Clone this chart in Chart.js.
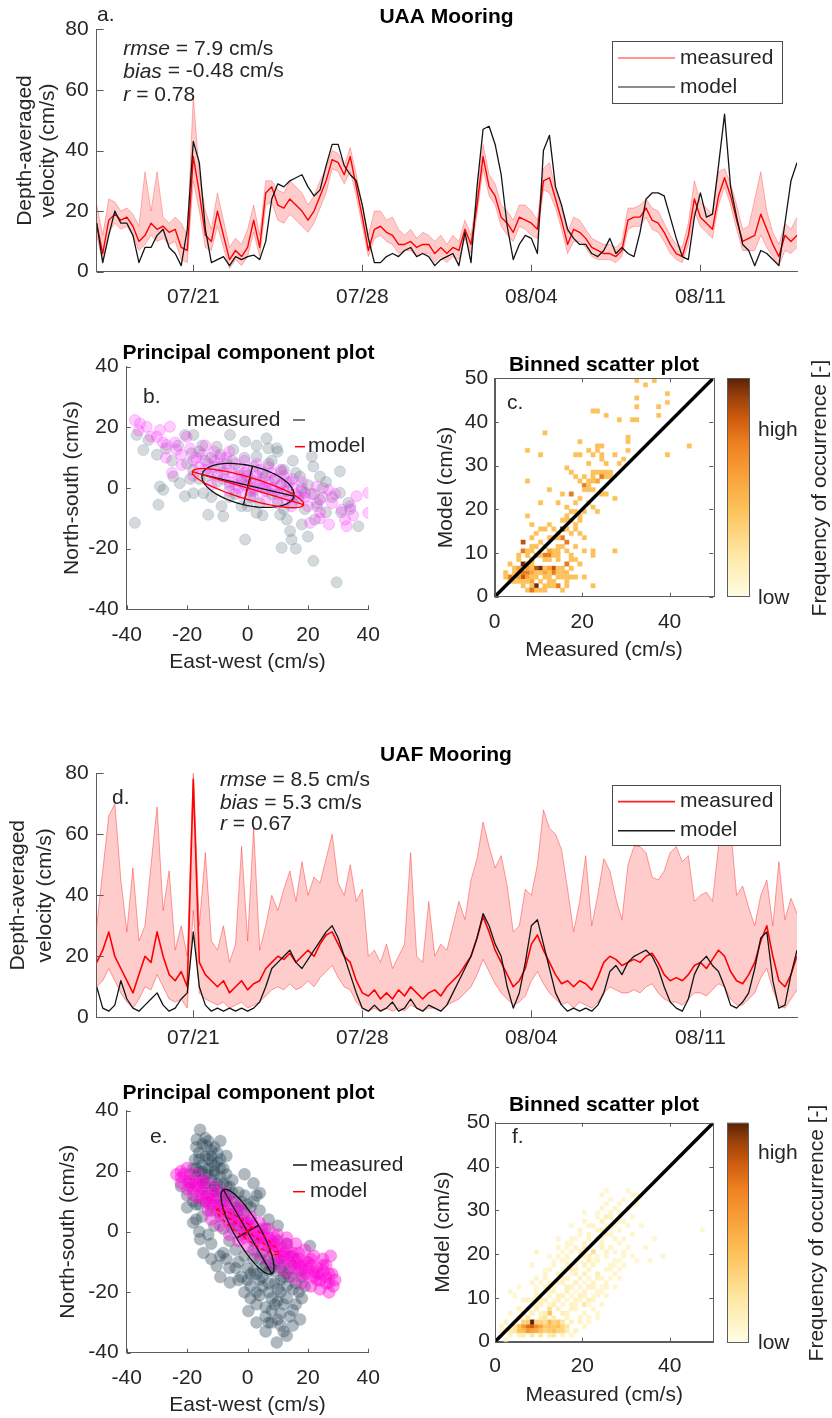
<!DOCTYPE html>
<html>
<head>
<meta charset="utf-8">
<title>UAA / UAF mooring comparison</title>
<script src="https://cdn.jsdelivr.net/npm/chart.js@4.4.1/dist/chart.umd.min.js"></script>
<style>
  html, body { margin: 0; padding: 0; background: #fff; }
  #page { position: relative; width: 832px; height: 1418px; overflow: hidden; background: #fff; }
  #page canvas { position: absolute; }
</style>
</head>
<body>
<div id="page">
  <canvas id="panelA" width="832" height="325" style="left:0px;top:0px"></canvas>
  <canvas id="panelB" width="420" height="350" style="left:0px;top:330px"></canvas>
  <canvas id="panelC" width="412" height="350" style="left:420px;top:330px"></canvas>
  <canvas id="panelD" width="832" height="330" style="left:0px;top:740px"></canvas>
  <canvas id="panelE" width="420" height="343" style="left:0px;top:1075px"></canvas>
  <canvas id="panelF" width="412" height="343" style="left:420px;top:1075px"></canvas>
</div>
<script>
// ---- data -------------------------------------------------------------
// time series: one sample every 6 h, day 0 = 07/17
const sampleStepDays = 0.25;
const dateTickDays = [4, 11, 18, 25];
const dateTickLabels = ['07/21', '07/28', '08/04', '08/11'];
const velocityTicks = [0, 20, 40, 60, 80];
const pcaTicks = [-40, -20, 0, 20, 40];
const binXTicks = [0, 20, 40];
const binYTicks = [0, 10, 20, 30, 40, 50];
const oneToOne = [0, 50];

const uaaMeasured = [16,6,17,19,17,18,15,10,12,16, 14,15,13,14,8,7,38,26,12,10, 20,12,4,7,5,8,17,8,26,28,
  22,21,24,22,20,17,20,25,30,37, 36,32,38,28,18,7,14,15,13,12, 9,9,10,8,9,9,6,8,6,8,
  7,14,9,22,38,28,25,18,16,13, 18,17,16,14,30,31,24,17,9,14, 13,11,8,7,6,6,5,7,17,18,
  18,21,17,16,13,9,6,5,12,24, 18,16,14,25,31,25,17,10,11,12, 19,14,9,5,12,10,12];
const uaaUpper = [22,12,24,23,20,21,19,15,33,20, 33,18,16,18,16,12,58,32,20,14, 26,17,8,11,9,14,22,12,30,30,
  27,26,30,28,26,22,25,30,34,40, 39,35,41,32,22,12,20,20,17,18, 14,12,14,11,13,12,10,12,9,12,
  10,17,12,25,42,32,29,22,20,17, 22,22,20,17,34,36,27,21,13,18, 17,14,11,10,9,9,8,10,21,21,
  22,24,21,20,16,12,9,8,16,30, 23,21,19,33,34,29,22,14,15,24, 33,20,13,9,16,14,18];
const uaaLower = [12,3,13,16,14,15,12,7,9,12, 10,11,9,10,4,3,30,20,8,7, 15,8,1,4,2,5,13,5,22,23,
  17,16,19,17,15,13,16,21,26,34, 33,29,33,25,15,5,11,12,10,9, 6,7,7,5,6,6,3,5,3,5,
  4,11,6,19,34,25,22,15,12,10, 15,14,12,11,27,26,21,14,6,10, 10,8,5,4,4,4,3,5,14,15,
  15,18,14,13,10,6,4,3,9,20, 15,13,11,22,28,22,14,7,7,7, 12,8,5,2,7,6,8];
const uaaModel = [16,3,12,20,16,16,12,3,8,8, 12,14,8,6,2,14,43,36,14,3, 4,5,2,5,4,5,5.5,4,10,24,
  29,28,30,31,32,28,25,27,35,42, 42,35,32,30,22,11,3,3,5,6, 5,7,8,5,6,5,2,4,5,6,
  2,13,3,28,47,48,42,32,15,4, 9,12,11,6,40,45,28,22,14,11, 9,9,6,5,7,11,6,8,6,5,
  13,24,26,26,25,18,11,5,4,18, 26,18,19,35,52,28,18,9,7,2, 7,6,4,2,16,30,36];

const uafMeasured = [18,22,28,20,16,12,8,14,20,18, 28,20,14,12,15,10,78,18,14,12, 10,12,8,10,12,9,11,12,16,18,
  20,19,21,18,20,22,20,24,27,28, 24,20,18,12,8,7,9,6,8,6, 9,7,10,8,6,8,9,7,10,12,
  14,17,20,26,33,28,22,18,14,10, 12,16,24,27,22,18,14,11,12,10, 12,11,9,13,18,20,19,17,18,19,
  18,20,21,18,14,12,13,12,14,17, 18,16,19,22,20,15,12,11,14,18, 25,30,20,12,10,14,20];
const uafUpper = [30,48,66,70,45,28,49,25,30,50, 69,35,48,22,30,20,80,30,54,25, 22,30,18,24,56,25,62,22,30,40,
  35,42,48,38,51,40,46,44,52,60, 44,40,50,38,42,20,22,18,24,16, 20,24,54,20,18,38,20,24,22,30,
  38,32,45,52,64,56,49,53,43,28, 30,42,40,50,68,62,60,55,42,28, 38,53,30,40,52,48,39,32,50,56,
  56,54,46,45,48,54,56,51,53,38, 40,41,38,56,65,62,40,43,36,30, 40,45,30,51,32,39,34];
const uafLower = [10,12,16,12,8,5,3,6,10,9, 14,10,6,5,6,3,35,8,6,5, 4,5,3,4,5,3,4,5,7,9,
  10,9,11,9,10,12,10,13,15,17, 13,10,9,5,3,2,3,2,3,2, 3,2,4,3,2,3,3,2,4,5,
  6,8,10,14,19,15,11,8,6,4, 5,7,12,15,11,8,6,4,5,3, 5,4,3,5,8,10,9,8,8,9,
  8,10,11,8,6,5,5,4,6,8, 8,7,9,11,10,6,4,4,6,8, 13,16,9,4,3,6,9];
const uafModel = [10,3,2,4,12,6,3,2,4,6, 8,4,2,3,6,8,28,10,4,2, 3,2,3,2,3,2,3,5,10,16,
  18,20,22,18,16,19,22,25,28,30, 26,20,14,8,3,2,4,2,3,5, 2,3,6,3,2,4,3,2,4,8,
  12,16,20,26,34,30,24,20,10,3, 8,18,30,32,24,16,8,4,2,3, 2,3,2,4,8,15,17,14,18,20,
  21,22,20,16,10,5,3,2,6,14, 18,20,17,15,10,4,3,5,8,16, 26,28,12,3,4,14,22];

// principal component clouds, [east-west, north-south] in cm/s
const pcaB_measured = [[-37.3,-11.5],[-36.7,17.5],[-34.5,12.5],[-32.8,15.8],[-29.5,-5.5],[-29,0.5],[-27.9,-0.6],
  [-24.6,3.8],[-22.4,1.6],[-20.7,-2.7],[-17.9,-1.7],[-20.7,17.5],[-17.9,17.5],[-18.5,11.5],[-14.6,-1.7],[-13,-8.8],
  [-8.6,-6],[-8,-9.3],[-5.8,17.5],[-10.2,13.6],[-4.7,12.6],[-0.8,15.3],[-0.8,-17],[3,10.4],[6.3,16.4],[6.9,13.1],
  [9.7,13.1],[11.3,5.5],[3,-8.2],[10.8,-8.8],[13,-10.4],[14.1,-14.2],[14.6,-17],[11.3,-19.7],[17.4,3.8],[19,-1.6],
  [21.3,10.4],[21.8,7.1],[22.3,-10.4],[24,3.8],[24,-3.8],[30.6,5.5],[30.6,-1.6],[33.4,-4.9],[36.7,-12.6],[21.8,-24],
  [29.5,-31.1],[-20,8],[-18,6],[-16,12],[-15,14],[-14,9],[-13,4],[-12,10],[-11,7],[-10,2],[-9,11],[-8,5],[-7,8],
  [-6,1],[-5,9],[-4,-2],[-3,6],[-2,3],[-1,10],[0,4],[1,-3],[2,7],[3,2],[4,-5],[5,5],[6,0],[7,8],[8,-2],[9,3],
  [10,-4],[11,1],[12,6],[13,-1],[14,2],[15,-5],[16,5],[17,-3],[18,0],[19,-7],[20,1],[22,-2],[23,-6],[25,0],[26,-8],
  [28,-3],[15,9],[-2,-6],[-16,3],[-25,9],[-27,13],[-30,11],[-23,14],[-19,3],[3,14],[8,9],[12,-7],[18,-12],[-6,-3],
  [0,-6],[5,-9],[-12,-3],[26,2],[31,-8],[34,-7],[20,-16],[16,-20],[10,12],[-1,1],[2,-1],[6,4]];
const pcaB_model = [[-37.3,22.4],[-35.6,21.3],[-33.4,20.2],[-30,16.9],[-29,19.1],[-25.7,20.2],[-26.8,14.2],[-23.5,12.6],
  [-21.8,7.6],[-20.1,16.9],[-36,19],[-32,17],[-28,15],[-27,10],[-24,15],[-22,11],[-19,13],[-18,9],[-17,10],[-16,7],
  [-15,11],[-14,6],[-13,8],[-12,5],[-11,9],[-10,4],[-9,7],[-8,3],[-7,6],[-6,2],[-5,5],[-4,1],[-3,4],[-2,2],[-1,5],
  [0,1],[1,3],[2,0],[3,4],[4,1],[5,3],[6,-1],[7,2],[8,0],[9,3],[10,-2],[11,1],[12,-1],[13,2],[14,-3],[15,0],[16,-2],
  [17,-4],[18,-1],[19,-3],[20,-6],[21,-2],[22.9,0.5],[23,-5],[24,-8],[25,-3],[26.8,-0.6],[28,-5],[29,-2],[31.2,-7.1],
  [32.3,-10.4],[32.8,-12.6],[34,-6],[36.1,-2.7],[40,-1.6],[40,-8.2],[20.7,-11.5],[14.6,-6],[13,-4],[-9,10],[-4,8],
  [0,6],[4,6],[8,5],[12,4],[-6,-1],[-2,-2],[2,-3],[6,-4],[10,-5],[-12,1],[-18,4],[-25,5],[-6,12],[-1,9],[3,8],[7,7],
  [11,6],[15,3],[18,2],[1,-1],[-3,0],[5,0],[9,-1],[-7,10],[-11,12],[-14,14],[24,-10],[27,-12],[35,-9]];
const pcaE_measured = [[-15.7,33.7],[-16.8,30.5],[-13.5,28.3],[-17.4,23.8],[-14,31],[-12,27],[-16,26],[-18,21],[-19,19],
  [-17,18],[-15,22],[-13,24],[-11,22],[-10,26],[-14,19],[-12,17],[-16,15],[-18,14],[-20,12],[-13,13],[-9,18],[-8,21],
  [-11,15],[-7,15],[-10,11],[-14,10],[-17,9],[-6,12],[-5,17],[-8,9],[-12,7],[-4,8],[-3,13],[-2,10],[-6,6],[-9,5],
  [-15,5],[-18,3],[-1,6],[0,3],[1,8],[3,12],[4,7],[-3,2],[-5,1],[-8,1],[-11,2],[-15.7,-2.5],[-14.6,-7],[-12,-4],
  [-10.2,-11.3],[-8,-7],[-6,-3],[-4,-6],[-2,-1],[0,0],[2,-3],[4,-2],[6,1],[5,-7],[2,-9],[0,-12],[-3,-10],[-5.8,-16.8],
  [-2,-15],[1,-18],[3,-14],[5,-12],[7,-9],[8,-5],[10,-3],[12,-8],[9,-13],[7,-17],[4,-21],[0.3,-26.2],[3,-30],[6,-25],
  [8,-22],[10,-19],[12,-15],[14,-12],[16,-17],[13,-22],[11,-27],[9.7,-36.6],[13,-34.4],[17.4,-29],[15,-26],[8,-30],
  [6,-33],[11,-31],[18,-22],[20.7,-4.7],[4.1,12.8],[7,4],[10,2],[13,-4],[15,-8],[-7,25],[-9,30],[-20,8],[-22,15],
  [-6,-12],[-9,-15],[17,-13],[19,-18],[2,16],[-1,19],[-15,17],[-13,21],[-11,19],[-16,20],[-12,23],[-10,16],[-14,15],
  [5,-15],[7,-20],[9,-24],[11,-20],[3,-24],[13,-18],[9,-9],[11,-12],[-1,-8],[1,-14],
  [-17,28],[-15,29],[-13,30],[-11,28],[-16,24],[-14,25],[-12,25],[-10,23],[-9,24],[-17,21],[-15,20],[-13,19],
  [-11,20],[-9,21],[-7,19],[-16,17],[-14,16],[-12,14],[-10,14],[-8,16],[-6,15],[-15,12],[-13,11],[-11,12],[-9,13],
  [-7,12],[-5,13],[-4,10],[-19,16],[-18,10],[-16,9],[-12,9],[-10,9],[-7,10],[-5,4],[-2,4],[-3,7],[-1,12],[0,9],[2,10],
  [2,-6],[4,-9],[6,-11],[8,-12],[10,-10],[12,-11],[14,-15],[15,-19],[17,-20],[16,-24],[14,-28],[12,-24],[10,-23],
  [8,-26],[6,-28],[5,-18],[3,-20],[1,-22],[-1,-20],[-3,-16],[0,-16],[2,-13],[11,-16],[13,-14],[9,-17],[7,-13],
  [4,-16],[16,-10],[18,-15],[15,-31],[12,-33],[10,-29],[7,-30],[-4,-12],[-7,-9],[-9,-8],[-12,-9],[-13,-1],[-16,0],[-17,4]];
const pcaE_model = [[-23.5,18.9],[-22,16],[-21,19],[-20,14],[-19,17],[-18,12],[-17,15],[-16,11],[-15,14],[-14,10],
  [-13,12],[-12,8],[-11,11],[-10,7],[-9,9],[-8,5],[-7,8],[-6,3],[-5,6],[-4,2],[-3,4],[-2,0],[-1,3],[0,-1],[1,1],
  [2,-2],[3,0],[4,-4],[5,-1],[6,-5],[7,-2],[8,-6],[9,-4],[10,-8],[11,-5],[12,-9],[13,-6],[14,-10],[15,-7],[16,-12],
  [17,-9],[18,-13],[19,-10],[20,-14],[21,-11],[22,-15],[23,-12],[24,-16],[25,-13],[26,-17],[27,-14],[28.4,-18],
  [27.5,-8],[25,-9],[22,-8],[19,-6],[16,-4],[13,-2],[10,-1],[7,1],[4,3],[1,5],[-2,7],[-5,10],[-8,13],[-11,15],
  [-14,17],[-17,19],[-20,21],[-22,20],[-12,4],[-9,2],[-6,-1],[-3,-3],[0,-5],[3,-7],[6,-9],[9,-11],[12,-13],[15,-15],
  [18,-17],[21,-18],[24,-19],[27,-20],[29,-16],[26,-11],[-16,16],[-13,7],[-1,-2],[2,2],[5,-3],[8,-3],[11,-7],
  [14,-8],[17,-11],[20,-10],[23,-14],
  [-22,18],[-20,17],[-18,16],[-16,13],[-14,12],[-12,11],[-10,9],[-8,8],[-6,6],[-4,5],[-2,3],[0,2],[2,0],[4,-1],
  [6,-2],[8,-4],[10,-5],[12,-7],[14,-8],[16,-9],[18,-11],[20,-12],[22,-13],[24,-14],[26,-15],[28,-14],[-19,15],
  [-15,16],[-11,13],[-7,11],[-3,8],[1,4],[5,1],[9,-2],[13,-4],[17,-7],[21,-9],[25,-11],[-13,10],[-9,6],[-5,3],
  [-1,0],[3,-3],[7,-5],[11,-9],[15,-11],[19,-14],[23,-16],[27,-17]];

// variance ellipses: [centre x, centre y, semi-major, semi-minor, angle deg]
const ellipseB_measured = [0.15, 0.85, 15.6, 6.5, -13.2];
const ellipseB_model = [0.15, -0.05, 19.2, 3.6, -16.5];
const ellipseE_measured = [0, 0, 16.0, 4.2, -60];
const ellipseE_model = [0, 0, 12.6, 2.2, -36];

// binned scatter, 1 cm/s bins: [measured bin, model bin, count level 1..5]
const binsC = [[32,49,1],[34,48,1],[36,49,1],[32,45,1],[39,46,1],[39,44,1],[37,43,1],[32,43,1],[22,42,1],[23,42,1],
  [25,41,1],[37,41,1],[28,40,1],[31,40,1],[32,40,1],[11,37,1],[30,36,1],[30,35,1],[19,35,1],[44,34,1],[7,33,1],
  [23,34,1],[24,34,1],[21,33,1],[23,33,1],[24,32,1],[18,32,1],[19,32,1],[22,32,1],[10,32,1],[27,32,1],[30,33,1],
  [39,32,1],[29,31,1],[24,31,1],[21,30,1],[25,30,1],[28,30,1],[16,29,1],[17,28,1],[22,28,1],[23,28,1],[24,28,1],
  [25,28,1],[26,28,1],[20,27,1],[18,27,1],[22,26,1],[23,26,2],[24,27,3],[7,26,1],[20,25,3],[21,25,1],[22,24,1],
  [25,23,1],[24,23,1],[17,23,3],[12,24,1],[15,23,1],[27,22,1],[14,21,1],[10,21,1],[21,21,1],[22,20,1],[23,19,1],
  [16,20,1],[18,19,1],[19,18,1],[7,18,1],[16,18,1],[15,17,1],[8,16,1],[10,15,1],[11,15,1],[15,15,5],[18,16,1],
  [17,14,1],[19,14,1],[20,13,1],[15,13,3],[16,12,3],[14,13,1],[13,13,1],[12,13,1],[9,14,1],[8,13,1],[6,12,4],
  [10,12,1],[18,11,1],[20,10,1],[22,10,1],[22,9,1],[27,10,1],[6,10,3],[8,10,1],[9,9,2],[11,9,3],[12,9,3],[6,7,5],
  [7,7,2],[8,7,1],[9,6,4],[10,6,5],[13,6,4],[16,7,3],[3,7,1],[2,5,1],[3,4,3],[4,4,1],[6,4,4],[7,5,3],[10,5,1],
  [13,5,3],[14,2,3],[9,2,5],[7,1,1],[9,1,1],[15,1,1],[22,2,1],[18,4,1],[20,4,1],[17,4,1],[5,9,1],[7,9,1],[10,9,1],
  [13,9,1],[14,9,1],[5,8,1],[8,8,2],[11,8,1],[12,8,1],[14,8,1],[4,6,1],[5,6,2],[7,6,2],[8,6,1],[11,6,1],[12,6,2],
  [14,6,1],[15,6,1],[17,6,1],[5,5,2],[6,5,3],[8,5,2],[9,5,1],[11,5,2],[12,5,1],[14,5,1],[15,5,1],[16,5,1],[5,4,2],
  [7,4,2],[8,4,1],[11,4,1],[12,4,1],[14,4,1],[15,4,1],[16,4,1],[4,3,1],[6,3,1],[8,3,2],[10,3,1],[12,3,1],[13,3,1],
  [16,3,1],[6,2,1],[8,2,1],[11,2,1],[12,2,1],[13,2,1],[16,2,1],[10,1,1],[11,1,1],[8,1,3],[13,10,1],[14,10,1],
  [15,11,1],[14,11,1],[11,11,1],[12,10,2],[9,11,1],[16,10,1],[17,9,1],[18,8,1],[19,7,1],[17,8,1],[16,15,1],[18,15,1],
  [13,15,1],[14,14,1],[20,19,1],[17,19,1],[18,21,1],[19,22,1],[20,24,1],[21,24,1],[21,26,1],[19,26,1],[22,27,1],
  [26,27,1],[25,27,1],[17,17,1],[19,17,1],[16,17,1],[12,16,1],[8,11,1],[7,10,1],[4,5,1],[3,3,1],[2,4,1],[5,3,1],
  [7,3,1],[9,4,1]];
// binned scatter UAF: [measured bin, model bin, relative frequency 0..1]
const binsF = [[7,3,0.75],[8,3,0.8],[8,4,1.0],[6,3,0.6],[9,3,0.65],[10,3,0.55],[7,2,0.6],[8,2,0.55],[9,2,0.5],
  [6,2,0.45],[5,2,0.4],[5,3,0.4],[10,2,0.4],[11,3,0.35],[12,3,0.4],[12,4,0.45],[13,3,0.35],[14,3,0.4],[13,2,0.4],
  [14,4,0.35],[15,3,0.3],[12,6,0.4],[11,2,0.3],[12,2,0.35],[15,2,0.3],[10,4,0.3],[9,4,0.3],[7,4,0.35],[6,4,0.3],
  [11,4,0.25],[13,4,0.3],[14,2,0.3],[4,2,0.2],[3,2,0.15],[4,3,0.2],[15,4,0.2],[16,3,0.2],[16,2,0.15],[13,1,0.2],
  [10,1,0.2],[8,1,0.2],
  [5,5,.15],[7,5,.2],[10,5,.15],[11,5,.2],[13,5,.15],[16,5,.1],[19,5,.1],[21,5,.08],
  [6,6,.15],[8,6,.12],[11,6,.15],[15,6,.12],[16,6,.1],[20,6,.08],[23,6,.06],
  [7,7,.12],[9,7,.15],[12,7,.25],[14,7,.12],[17,7,.1],[18,7,.08],[22,7,.06],
  [9,8,.1],[10,8,.12],[13,8,.15],[17,8,.1],[18,8,.08],[20,8,.2],[24,8,.08],
  [6,9,.08],[10,9,.1],[11,9,.12],[14,9,.12],[18,9,.1],[21,9,.12],[22,9,.08],
  [4,10,.06],[9,10,.1],[14,10,.12],[15,10,.1],[19,10,.12],[20,10,.1],[25,10,.08],
  [3,11,.06],[12,11,.1],[13,11,.1],[16,11,.12],[20,11,.1],[23,11,.08],[24,11,.06],
  [5,12,.06],[11,12,.1],[16,12,.12],[17,12,.1],[21,12,.12],[22,12,.1],[27,12,.06],
  [8,13,.08],[12,13,.1],[15,13,.1],[18,13,.12],[22,13,.1],[25,13,.08],
  [9,14,.08],[15,14,.1],[16,14,.12],[19,14,.1],[23,14,.12],[24,14,.08],[28,14,.06],
  [11,15,.08],[14,15,.12],[18,15,.1],[20,15,.12],[23,15,.15],[27,15,.08],
  [12,16,.08],[17,16,.15],[18,16,.1],[21,16,.1],[25,16,.08],[28,16,.06],
  [13,17,.08],[16,17,.1],[20,17,.12],[22,17,.1],[26,17,.08],[29,17,.06],
  [15,18,.08],[18,18,.1],[21,18,.15],[23,18,.1],[27,18,.06],[35,18,.06],
  [16,19,.08],[20,19,.1],[21,19,.12],[25,19,.08],[29,19,.06],
  [9,20,.1],[17,20,.08],[19,20,.12],[22,20,.25],[25,20,.1],[27,20,.06],
  [14,21,.08],[18,21,.1],[20,21,.12],[24,21,.1],[26,21,.08],[30,21,.06],
  [16,22,.06],[20,22,.1],[22,22,.12],[24,22,.1],[28,22,.06],
  [17,23,.06],[21,23,.08],[23,23,.12],[27,23,.08],[29,23,.06],
  [19,24,.06],[21,24,.1],[25,24,.1],[26,24,.08],[31,24,.06],
  [19,25,.08],[23,25,.1],[24,25,.12],[28,25,.08],[47,25,.06],
  [21,26,.06],[22,26,.1],[26,26,.08],[30,26,.06],
  [20,27,.08],[24,27,.12],[27,27,.1],[29,27,.06],
  [23,28,.06],[25,28,.12],[26,28,.1],[31,28,.06],
  [23,29,.06],[26,29,.08],[28,29,.06],[24,30,.08],[27,30,.08],[30,30,.06],
  [25,31,.06],[28,31,.06],[32,31,.06],[26,32,.06],[29,32,.06],[24,33,.06],[31,33,.08],[32,33,.06],[25,34,.06],[30,34,.06],
  [3,1,.1],[5,1,.12],[6,1,.15],[12,1,.15],[15,1,.1],[17,1,.08],[2,0,.06],[18,2,.1],[20,3,.08],[19,4,.1],[17,4,.12],
  [21,4,.06],[23,5,.06],[20,29,.06],[17,26,.06],[14,23,.06],[12,19,.06],[8,17,.06],[11,14,.08],[9,11,.08],[7,9,.1],
  [5,7,.1],[3,6,.08],[2,4,.1],[1,3,.08],[1,2,.06],[38,19,.06],[36,23,.06],[33,26,.06],[34,21,.06],[31,19,.06],
  [29,20,.06],[32,18,.06],
  [12,10,.06],[13,12,.05],[14,13,.06],[15,16,.05],[16,18,.06],[17,15,.05],[18,17,.06],[19,18,.05],[19,12,.06],
  [20,13,.05],[21,14,.06],[22,18,.05],[23,19,.06],[24,23,.05],[25,26,.06],[26,25,.05],[27,26,.06],[28,27,.05],
  [10,6,.08],[12,8,.08],[13,9,.06],[15,8,.06],[16,9,.05],[17,10,.06],[18,11,.05],[19,9,.06],[21,8,.05],[22,10,.05],
  [23,10,.06],[24,12,.05],[25,12,.06],[26,14,.05],[26,16,.06],[27,17,.05],[28,18,.05],[8,9,.06],[9,12,.05],
  [10,13,.06],[11,16,.05],[13,18,.05],[14,19,.06],[15,20,.05],[16,21,.06],[17,22,.05],[18,23,.05]];

// ---- styling ----------------------------------------------------------
const FONT = '"Liberation Sans", Arial, Helvetica, sans-serif';
const INK = '#262626';
const AXIS = '#5c5c5c';
const heatStops = [[0, '#fffde4'], [0.2, '#fee7a2'], [0.4, '#fdc15a'], [0.55, '#f9a23a'], [0.7, '#ee8120'],
  [0.82, '#cc5a0e'], [0.92, '#96400a'], [1, '#5a2206']];
const levelShade = [0, 0.4, 0.55, 0.72, 0.84, 0.97];

Chart.defaults.font.family = FONT;
Chart.defaults.color = INK;

const sampleDays = uaaMeasured.map((_, i) => i * sampleStepDays);

function pts(xs, ys) { return ys.map((y, i) => ({x: xs[i], y: y})); }
function pairs(list) { return list.map(p => ({x: p[0], y: p[1]})); }

function hexRgb(h) { return [1, 3, 5].map(i => parseInt(h.substr(i, 2), 16)); }
function heat(v) {
  for (let i = 1; i < heatStops.length; i++) {
    if (v <= heatStops[i][0] || i === heatStops.length - 1) {
      const [p0, c0] = heatStops[i - 1], [p1, c1] = heatStops[i];
      const k = Math.max(0, Math.min(1, (v - p0) / (p1 - p0)));
      const a = hexRgb(c0), b = hexRgb(c1);
      return 'rgb(' + a.map((q, j) => Math.round(q + (b[j] - q) * k)).join(',') + ')';
    }
  }
}

function ellipsePath(e) {
  const t = e[4] * Math.PI / 180, out = [];
  for (let k = 0; k <= 96; k++) {
    const s = k / 96 * 2 * Math.PI, u = e[2] * Math.cos(s), v = e[3] * Math.sin(s);
    out.push({x: e[0] + u * Math.cos(t) - v * Math.sin(t), y: e[1] + u * Math.sin(t) + v * Math.cos(t)});
  }
  return out;
}
function ellipseAxes(e) {
  const t = e[4] * Math.PI / 180, c = Math.cos(t), s = Math.sin(t);
  return [
    [{x: e[0] - e[2] * c, y: e[1] - e[2] * s}, {x: e[0] + e[2] * c, y: e[1] + e[2] * s}],
    [{x: e[0] + e[3] * s, y: e[1] - e[3] * c}, {x: e[0] - e[3] * s, y: e[1] + e[3] * c}]
  ];
}

// canvas box [left, top, w, h] and plot area [l, t, r, b], page pixels
function frame(box, area) {
  return {
    origin: [box[0], box[1]],
    padding: {left: 0, top: area[1] - box[1], right: box[0] + box[2] - area[2], bottom: 0},
    yWidth: area[0] - box[0],
    xHeight: box[1] + box[3] - area[3]
  };
}

function fixedTicks(values) {
  return scale => { scale.ticks = values.map(v => ({value: v})); };
}

function xAxis(fr, range, tickValues, o) {
  return {
    type: 'linear', position: 'bottom', min: range[0], max: range[1], bounds: 'data',
    afterBuildTicks: fixedTicks(tickValues),
    afterFit: s => { s.height = fr.xHeight; },
    grid: {display: false, drawTicks: false},
    border: {display: true, color: AXIS, width: 1},
    ticks: {
      color: INK, font: {family: FONT, size: 21}, padding: o.tickPad, maxRotation: 0, autoSkip: false,
      callback: v => o.labels ? o.labels[tickValues.indexOf(v)] : String(v)
    },
    title: {display: !!o.title, text: o.title || '', color: INK,
      font: {family: FONT, size: 21, lineHeight: 1.2}, padding: {top: 0, bottom: o.titlePad || 0}}
  };
}

function yAxis(fr, range, tickValues, o) {
  return {
    type: 'linear', position: 'left', min: range[0], max: range[1], bounds: 'data',
    afterBuildTicks: fixedTicks(tickValues),
    afterFit: s => { s.width = fr.yWidth; },
    grid: {display: false, drawTicks: false},
    border: {display: true, color: AXIS, width: 1},
    ticks: {color: INK, font: {family: FONT, size: 21}, padding: o.tickPad, autoSkip: false, callback: v => String(v)},
    title: {display: !!o.title, text: o.title || '', color: INK,
      font: {family: FONT, size: 21, lineHeight: 1.2}, padding: {top: o.titlePad || 0, bottom: 0}}
  };
}

function drawText(ctx, t, off) {
  ctx.save();
  ctx.translate(t.x - off[0], t.y - off[1]);
  if (t.rot) ctx.rotate(t.rot * Math.PI / 180);
  ctx.fillStyle = t.color || INK;
  ctx.textBaseline = 'middle';
  ctx.textAlign = 'left';
  const runs = t.runs || [{t: t.text}];
  const fontOf = r => (r.i ? 'italic ' : '') + (t.bold ? 'bold ' : '') + (t.size || 21) + 'px ' + FONT;
  let w = 0;
  runs.forEach(r => { ctx.font = fontOf(r); w += ctx.measureText(r.t).width; });
  let x = t.align === 'center' ? -w / 2 : (t.align === 'right' ? -w : 0);
  runs.forEach(r => { ctx.font = fontOf(r); ctx.fillText(r.t, x, 0); x += ctx.measureText(r.t).width; });
  ctx.restore();
}

// inward MATLAB-style ticks, optional box, colour bar, legend boxes and text
const decor = {
  id: 'decor',
  afterDraw(chart, args, o) {
    const ctx = chart.ctx, a = chart.chartArea, off = o.origin || [0, 0];
    const sx = chart.scales.x, sy = chart.scales.y, L = o.tickLen || 0;
    ctx.save();
    ctx.strokeStyle = AXIS;
    ctx.lineWidth = 1;
    ctx.beginPath();
    sx.ticks.forEach(t => {
      const p = Math.round(sx.getPixelForValue(t.value)) + 0.5;
      ctx.moveTo(p, a.bottom); ctx.lineTo(p, a.bottom - L);
      if (o.box) { ctx.moveTo(p, a.top); ctx.lineTo(p, a.top + L); }
    });
    sy.ticks.forEach(t => {
      const p = Math.round(sy.getPixelForValue(t.value)) + 0.5;
      ctx.moveTo(a.left, p); ctx.lineTo(a.left + L, p);
      if (o.box) { ctx.moveTo(a.right, p); ctx.lineTo(a.right - L, p); }
    });
    ctx.stroke();
    if (o.box) {
      ctx.strokeRect(Math.round(a.left) + 0.5, Math.round(a.top) + 0.5,
        Math.round(a.right - a.left), Math.round(a.bottom - a.top));
    }
    if (o.colorbar) {
      const [x1, y1, x2, y2] = o.colorbar.map((v, i) => v - off[i % 2]);
      const g = ctx.createLinearGradient(0, y2, 0, y1);
      heatStops.forEach(s => g.addColorStop(s[0], s[1]));
      ctx.fillStyle = g;
      ctx.fillRect(x1, y1, x2 - x1, y2 - y1);
      ctx.strokeRect(Math.round(x1) + 0.5, Math.round(y1) + 0.5, Math.round(x2 - x1), Math.round(y2 - y1));
    }
    (o.boxes || []).forEach(b => {
      ctx.fillStyle = '#fff';
      ctx.fillRect(b[0] - off[0], b[1] - off[1], b[2] - b[0], b[3] - b[1]);
      ctx.strokeStyle = '#4a4a4a';
      ctx.strokeRect(Math.round(b[0] - off[0]) + 0.5, Math.round(b[1] - off[1]) + 0.5,
        Math.round(b[2] - b[0]), Math.round(b[3] - b[1]));
    });
    (o.lines || []).forEach(l => {
      ctx.strokeStyle = l.color;
      ctx.lineWidth = l.w;
      ctx.beginPath();
      ctx.moveTo(l.p[0] - off[0], l.p[1] - off[1]);
      ctx.lineTo(l.p[2] - off[0], l.p[3] - off[1]);
      ctx.stroke();
    });
    (o.texts || []).forEach(t => drawText(ctx, t, off));
    ctx.restore();
  }
};
Chart.register(decor);

function baseOptions(fr, scales, deco) {
  deco.origin = fr.origin;
  return {
    responsive: false, animation: false, devicePixelRatio: 1, events: [],
    layout: {padding: fr.padding},
    plugins: {legend: {display: false}, tooltip: {enabled: false}, decor: deco},
    scales: scales
  };
}

function trace(xs, ys, color, width) {
  return {data: pts(xs, ys), borderColor: color, borderWidth: width, pointRadius: 0,
    tension: 0, fill: false, borderJoinStyle: 'round'};
}

// ---- a / d: depth-averaged velocity ------------------------------------
function seriesPanel(id, box, area, s, o) {
  const fr = frame(box, area);
  const upper = trace(sampleDays, s.upper, o.edge, 1);
  upper.fill = '+1';
  upper.backgroundColor = o.band;
  const mid = (area[1] + area[3]) / 2;
  o.deco.texts.push(
    {text: 'Depth-averaged', x: o.titleX[0], y: mid, rot: -90, align: 'center'},
    {text: 'velocity (cm/s)', x: o.titleX[1], y: mid, rot: -90, align: 'center'});
  new Chart(document.getElementById(id), {
    type: 'line',
    data: {datasets: [
      trace(sampleDays, s.model, '#141414', 1.3),
      trace(sampleDays, s.measured, '#ff0000', o.redWidth),
      upper,
      trace(sampleDays, s.lower, o.edge, 1)
    ]},
    options: baseOptions(fr, {
      x: xAxis(fr, [0, 29], dateTickDays, {labels: dateTickLabels, tickPad: o.xTickPad}),
      y: yAxis(fr, [0, 80], velocityTicks, {tickPad: 8})
    }, o.deco)
  });
}

seriesPanel('panelA', [0, 0, 832, 325], [96.7, 29.3, 797, 271.7],
  {measured: uaaMeasured, upper: uaaUpper, lower: uaaLower, model: uaaModel},
  {edge: 'rgba(255,0,0,0.28)', band: 'rgba(255,0,0,0.2)', redWidth: 1.4, xTickPad: 12.7, titleX: [25, 48.3],
   deco: {tickLen: 7,
     boxes: [[611.7, 40.7, 781.7, 102.7]],
     lines: [{p: [618, 58, 675, 58], color: 'rgba(255,40,40,0.65)', w: 1.6},
             {p: [618, 87, 675, 87], color: '#1a1a1a', w: 1.2}],
     texts: [
       {text: 'UAA Mooring', x: 446.5, y: 17, bold: true, align: 'center', color: '#000'},
       {text: 'a.', x: 97, y: 15},
       {runs: [{t: 'rmse', i: true}, {t: ' = 7.9 cm/s'}], x: 123.3, y: 49.3},
       {runs: [{t: 'bias', i: true}, {t: ' = -0.48 cm/s'}], x: 123.3, y: 71.7},
       {runs: [{t: 'r', i: true}, {t: ' = 0.78'}], x: 123.3, y: 95},
       {text: 'measured', x: 680, y: 58},
       {text: 'model', x: 680, y: 87}
     ]}});

seriesPanel('panelD', [0, 740, 832, 330], [96.7, 773.3, 797, 1017.3],
  {measured: uafMeasured, upper: uafUpper, lower: uafLower, model: uafModel},
  {edge: 'rgba(255,40,40,0.45)', band: 'rgba(255,0,0,0.2)', redWidth: 1.6, xTickPad: 8.5, titleX: [18, 45],
   deco: {tickLen: 7,
     boxes: [[611.7, 785, 780, 845]],
     lines: [{p: [618, 801.7, 675, 801.7], color: '#ff2020', w: 1.8},
             {p: [618, 830.7, 675, 830.7], color: '#1a1a1a', w: 1.4}],
     texts: [
       {text: 'UAF Mooring', x: 446, y: 755, bold: true, align: 'center', color: '#000'},
       {text: 'd.', x: 112, y: 798},
       {runs: [{t: 'rmse', i: true}, {t: ' = 8.5 cm/s'}], x: 220, y: 780},
       {runs: [{t: 'bias', i: true}, {t: ' = 5.3 cm/s'}], x: 220, y: 803.3},
       {runs: [{t: 'r', i: true}, {t: ' = 0.67'}], x: 220, y: 824.3},
       {text: 'measured', x: 680, y: 801.7},
       {text: 'model', x: 680, y: 830.7}
     ]}});

// ---- b / e: principal component plots -----------------------------------
function pcaPanel(id, box, area, meas, model, eMeas, eModel, o) {
  const fr = frame(box, area);
  const curve = (data, color, dash) => ({data, showLine: true, pointRadius: 0, borderColor: color,
    borderWidth: 1.3, borderDash: dash || [], fill: false, tension: 0});
  const axM = ellipseAxes(eMeas), axR = ellipseAxes(eModel);
  new Chart(document.getElementById(id), {
    type: 'scatter',
    data: {datasets: [
      curve(ellipsePath(eModel), '#ff0000', o.redDash),
      curve(axR[0], '#ff0000', o.redDash),
      curve(axR[1], '#ff0000'),
      curve(ellipsePath(eMeas), '#111'),
      curve(axM[0], '#111'),
      curve(axM[1], '#111'),
      {data: pairs(model), pointRadius: o.r, pointBackgroundColor: o.magenta, pointBorderColor: o.magentaEdge, pointBorderWidth: 1},
      {data: pairs(meas), pointRadius: o.r, pointBackgroundColor: o.gray, pointBorderColor: o.grayEdge, pointBorderWidth: 1}
    ]},
    options: baseOptions(fr, {
      x: xAxis(fr, [-40, 40], pcaTicks, {title: 'East-west (cm/s)', titlePad: o.xTitlePad, tickPad: 13}),
      y: yAxis(fr, [-40, 40], pcaTicks, {title: 'North-south (cm/s)', titlePad: o.yTitlePad, tickPad: 8})
    }, o.deco)
  });
}

pcaPanel('panelB', [0, 330, 420, 350], [126.7, 366.7, 368.3, 609.3],
  pcaB_measured, pcaB_model, ellipseB_measured, ellipseB_model,
  {r: 5.5, gray: 'rgba(85,95,100,0.24)', grayEdge: 'rgba(130,170,200,0.35)',
   magenta: 'rgba(255,0,255,0.2)', magentaEdge: 'rgba(255,90,255,0.35)',
   xTitlePad: 5.4, yTitlePad: 59.4,
   deco: {tickLen: 4,
     lines: [{p: [293, 420, 305, 420], color: '#4d4d4d', w: 1.5},
             {p: [295, 446.7, 305, 446.7], color: '#ff0000', w: 1.5}],
     texts: [
       {text: 'Principal component plot', x: 248.5, y: 353.3, bold: true, align: 'center', color: '#000'},
       {text: 'b.', x: 143, y: 397},
       {text: 'measured', x: 187, y: 420},
       {text: 'model', x: 308, y: 446.7}
     ]}});

pcaPanel('panelE', [0, 1075, 420, 343], [126.7, 1110.7, 368.3, 1352.7],
  pcaE_measured, pcaE_model, ellipseE_measured, ellipseE_model,
  {r: 6, gray: 'rgba(38,62,76,0.36)', grayEdge: 'rgba(120,160,190,0.3)',
   magenta: 'rgba(255,0,215,0.4)', magentaEdge: 'rgba(255,60,225,0.45)', redDash: [4, 3],
   xTitlePad: 0, yTitlePad: 55.7,
   deco: {tickLen: 4,
     lines: [{p: [293, 1165, 307, 1165], color: '#111', w: 1.5},
             {p: [293, 1191.7, 305, 1191.7], color: '#ff0000', w: 1.5}],
     texts: [
       {text: 'Principal component plot', x: 248.5, y: 1093.3, bold: true, align: 'center', color: '#000'},
       {text: 'e.', x: 150, y: 1137},
       {text: 'measured', x: 310, y: 1165},
       {text: 'model', x: 310, y: 1191.7}
     ]}});

// ---- c / f: binned scatter -----------------------------------------------
function binPanel(id, box, area, cells, shadeOf, o) {
  const fr = frame(box, area);
  const colors = cells.map(c => heat(shadeOf(c)));
  const side = ctx => {
    const s = ctx.chart.scales.x;
    return Math.abs(s.getPixelForValue(1) - s.getPixelForValue(0)) / Math.SQRT2;
  };
  new Chart(document.getElementById(id), {
    type: 'scatter',
    data: {datasets: [
      {data: [{x: oneToOne[0], y: oneToOne[0]}, {x: oneToOne[1], y: oneToOne[1]}], showLine: true,
       pointRadius: 0, borderColor: '#000', borderWidth: 3.5, fill: false},
      {data: cells.map(c => ({x: c[0] + 0.5, y: c[1] + 0.5})), pointStyle: 'rect', pointRadius: side,
       pointBackgroundColor: colors, pointBorderColor: colors, pointBorderWidth: 0.4}
    ]},
    options: baseOptions(fr, {
      x: xAxis(fr, [0, 50], binXTicks, {title: 'Measured (cm/s)', titlePad: o.xTitlePad, tickPad: o.xTickPad}),
      y: yAxis(fr, [0, 50], binYTicks, {title: 'Model (cm/s)', titlePad: o.yTitlePad, tickPad: o.yTickPad})
    }, o.deco)
  });
}

binPanel('panelC', [420, 330, 412, 350], [494.7, 378.3, 713.3, 596.7], binsC, c => levelShade[c[2]],
  {xTitlePad: 17.4, xTickPad: 12.7, yTitlePad: 14.1, yTickPad: 6.5,
   deco: {tickLen: 4, box: true, colorbar: [727.3, 378.3, 749.3, 596.7],
     texts: [
       {text: 'Binned scatter plot', x: 604, y: 365, bold: true, align: 'center', color: '#000'},
       {text: 'c.', x: 507, y: 403},
       {text: 'high', x: 758, y: 430},
       {text: 'low', x: 758, y: 598},
       {text: 'Frequency of occurrence [-]', x: 820, y: 488, rot: -90, align: 'center'}
     ]}});

binPanel('panelF', [420, 1075, 412, 343], [495, 1122.7, 713.3, 1341.7], binsF, c => c[2],
  {xTitlePad: 10.4, xTickPad: 12.4, yTitlePad: 10.7, yTickPad: 5,
   deco: {tickLen: 4, box: true, colorbar: [727, 1122.7, 748, 1341.7],
     texts: [
       {text: 'Binned scatter plot', x: 604, y: 1105, bold: true, align: 'center', color: '#000'},
       {text: 'f.', x: 512, y: 1137},
       {text: 'high', x: 758, y: 1153.3},
       {text: 'low', x: 758, y: 1343.3},
       {text: 'Frequency of occurrence [-]', x: 817, y: 1233, rot: -90, align: 'center'}
     ]}});
</script>
</body>
</html>
